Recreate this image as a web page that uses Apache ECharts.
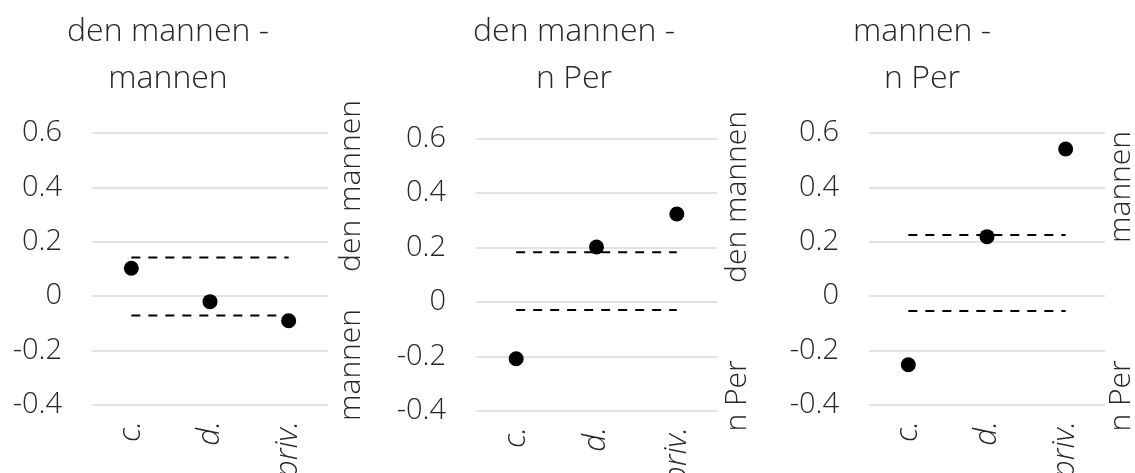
<!DOCTYPE html>
<html>
<head>
<meta charset="utf-8">
<script src="https://cdn.jsdelivr.net/npm/echarts@6/dist/echarts.min.js"></script>
<style>
  html, body { margin: 0; padding: 0; background: #ffffff; }
  #chart { width: 1135px; height: 473px; }
</style>
</head>
<body>
<div id="chart"></div>
<script>
// ---- data ----
const categories = ['c.', 'd.', 'priv.'];
const yTicks = { min: -0.4, max: 0.6, interval: 0.2 };

const titles = ['den mannen -\nmannen', 'den mannen -\nn Per', 'mannen -\nn Per'];
const topLabels = ['den mannen', 'den mannen', 'mannen'];
const bottomLabels = ['mannen', 'n Per', 'n Per'];

const points1 = [0.103, -0.020, -0.090];
const points2 = [-0.208, 0.202, 0.323];
const points3 = [-0.252, 0.219, 0.541];

const upper = [0.142, 0.183, 0.225];
const lower = [-0.071, -0.029, -0.054];

// ---- layout ----
const FONT = "'Open Sans', 'Noto Sans', sans-serif";
const TXT = '#262626';
const grids = [
  { left: 92, top: 133, width: 236, height: 272, outerBoundsMode: 'none', containLabel: false },
  { left: 476, top: 138.5, width: 241, height: 272.5, outerBoundsMode: 'none', containLabel: false },
  { left: 869, top: 133, width: 236, height: 272, outerBoundsMode: 'none', containLabel: false }
];
const titleX = [163, 569, 917];
const sideX = [351, 737, 1121];
const sideTopY = [186, 197, 187];
const sideBotY = [365, 396, 396];

const pointSets = [points1, points2, points3];

const xAxes = [], yAxes = [], series = [], titleArr = [], graphics = [];
for (let i = 0; i < 3; i++) {
  xAxes.push({
    type: 'category', gridIndex: i, data: categories, boundaryGap: true,
    axisLine: { show: false }, axisTick: { show: false },
    axisLabel: {
      rotate: 90, margin: 16, fontSize: 31, fontStyle: 'italic',
      fontFamily: FONT, fontWeight: 300, color: TXT
    }
  });
  yAxes.push({
    type: 'value', gridIndex: i, min: yTicks.min, max: yTicks.max, interval: yTicks.interval,
    axisLine: { show: false }, axisTick: { show: false },
    splitLine: { lineStyle: { color: '#d9d9d9', width: 1.5 } },
    axisLabel: {
      margin: 30, fontSize: 29, fontFamily: FONT, fontWeight: 300, color: TXT,
      formatter: v => (Math.abs(v) < 1e-9 ? '0' : String(Math.round(v * 10) / 10))
    }
  });
  [upper[i], lower[i]].forEach(v => {
    series.push({
      type: 'line', xAxisIndex: i, yAxisIndex: i,
      data: categories.map(() => v),
      showSymbol: false, symbol: 'none', silent: true, z: 2,
      lineStyle: { color: '#000', width: 2, type: [9, 8] }
    });
  });
  series.push({
    type: 'scatter', xAxisIndex: i, yAxisIndex: i,
    data: pointSets[i], symbolSize: 15, z: 5,
    itemStyle: { color: '#000', opacity: 1 }
  });
  titleArr.push({
    text: titles[i], left: titleX[i], top: 3, textAlign: 'center',
    textStyle: { fontSize: 32, lineHeight: 47, fontWeight: 300, fontFamily: FONT, color: TXT }
  });
  [[topLabels[i], sideTopY[i]], [bottomLabels[i], sideBotY[i]]].forEach(([t, y]) => {
    graphics.push({
      type: 'text', x: sideX[i], y: y, rotation: Math.PI / 2,
      style: {
        text: t, fontSize: 30, fontFamily: FONT, fontWeight: 300, fill: TXT,
        align: 'center', verticalAlign: 'middle'
      }
    });
  });
}

const chart = echarts.init(document.getElementById('chart'), null, { renderer: 'canvas' });
chart.setOption({
  animation: false,
  backgroundColor: '#ffffff',
  title: titleArr,
  grid: grids,
  xAxis: xAxes,
  yAxis: yAxes,
  series: series,
  graphic: graphics
});
</script>
</body>
</html>
